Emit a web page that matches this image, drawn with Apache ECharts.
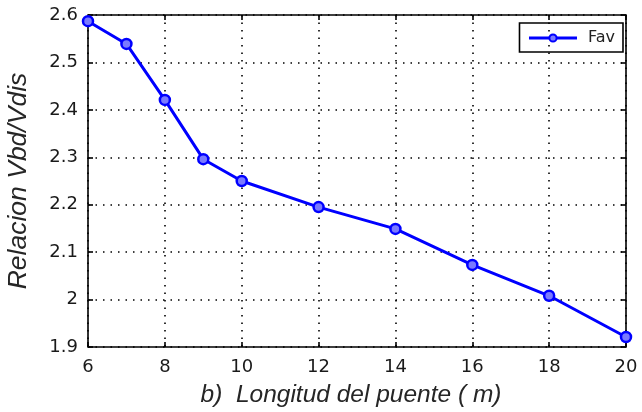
<!DOCTYPE html>
<html>
<head>
<meta charset="utf-8">
<script src="https://cdn.jsdelivr.net/npm/echarts@6/dist/echarts.min.js"></script>
<style>html,body{margin:0;padding:0;background:#fff;}#c{width:642px;height:412px;}</style>
</head>
<body>
<div id="c"></div>
<script>
const xValues = [6, 7, 8, 9, 10, 12, 14, 16, 18, 20];
const favValues = [2.587, 2.539, 2.421, 2.296, 2.250, 2.195, 2.149, 2.073, 2.008, 1.921];
const seriesName = 'Fav';
const xTitle = 'b)  Longitud del puente ( m)';
const yTitle = 'Relacion Vbd/Vdis';

const chart = echarts.init(document.getElementById('c'), null, {renderer: 'canvas'});
const font = 'DejaVu Sans';
const titleFont = 'Liberation Sans';
const gridLine = {show: true, lineStyle: {color: '#000', type: [1.5, 6], width: 1.6}};
const tick = {show: true, inside: true, length: 5, lineStyle: {color: '#000', width: 1.6}};
chart.setOption({
  animation: false,
  backgroundColor: '#fff',
  grid: {left: 88, right: 16, top: 15, bottom: 65, show: true, containLabel: false, outerBoundsMode: 'none',
    borderColor: '#000', borderWidth: 1.6, backgroundColor: 'transparent'},
  legend: {
    show: true, right: 19, top: 23, orient: 'vertical',
    borderColor: '#000', borderWidth: 1.6, padding: [7, 8, 6, 8],
    itemWidth: 48, itemHeight: 9, itemGap: 6,
    lineStyle: {width: 3},
    textStyle: {fontFamily: font, fontSize: 16, color: '#222', padding: [0, 0, 0, 6]},
    data: [seriesName]
  },
  xAxis: [{
    type: 'value', min: 6, max: 20, interval: 2,
    name: xTitle, nameLocation: 'middle', nameGap: 36,
    nameTextStyle: {fontFamily: titleFont, fontSize: 24.5, fontStyle: 'italic', color: '#262626', padding: [0, 12, 0, 0]},
    axisLine: {show: false},
    axisTick: tick,
    axisLabel: {fontFamily: font, fontSize: 18, color: '#1a1a1a', margin: 11},
    splitLine: gridLine
  }, {
    type: 'value', min: 6, max: 20, interval: 2, position: 'top',
    axisLine: {show: false}, axisLabel: {show: false},
    axisTick: tick,
    splitLine: {show: false}
  }],
  yAxis: [{
    type: 'value', min: 1.9, max: 2.6, interval: 0.1,
    name: yTitle, nameLocation: 'middle', nameGap: 56,
    nameTextStyle: {fontFamily: titleFont, fontSize: 26.5, fontStyle: 'italic', color: '#262626'},
    axisLine: {show: false},
    axisTick: tick,
    axisLabel: {fontFamily: font, fontSize: 18, color: '#1a1a1a', margin: 10,
      formatter: v => String(Math.round(v * 10) / 10)},
    splitLine: gridLine
  }, {
    type: 'value', min: 1.9, max: 2.6, interval: 0.1, position: 'right',
    axisLine: {show: false}, axisLabel: {show: false},
    axisTick: tick,
    splitLine: {show: false}
  }],
  series: [{
    name: seriesName, type: 'line',
    data: xValues.map((x, i) => [x, favValues[i]]),
    symbol: 'circle', symbolSize: 10,
    itemStyle: {color: '#7a7aff', borderColor: '#0000ff', borderWidth: 2.5},
    lineStyle: {color: '#0000ff', width: 3}
  }]
});
</script>
</body>
</html>
